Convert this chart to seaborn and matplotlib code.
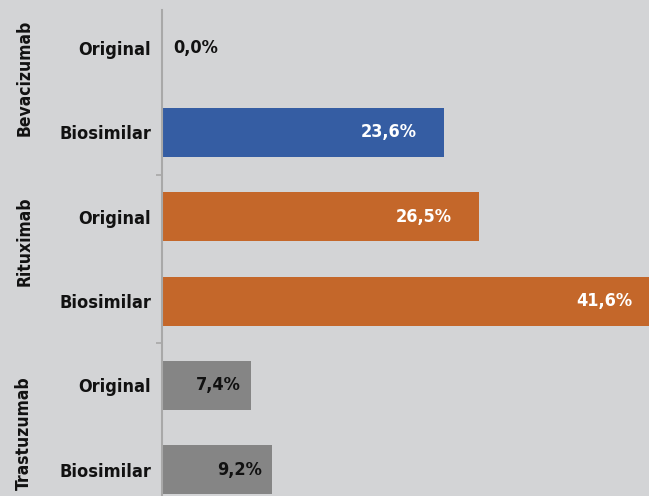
import matplotlib
matplotlib.use("Agg")
import matplotlib.pyplot as plt
import matplotlib.transforms as mtransforms
import seaborn as sns
import pandas as pd

productos = ["Bevacizumab", "Bevacizumab", "Rituximab", "Rituximab", "Trastuzumab", "Trastuzumab"]
tipos = ["Original", "Biosimilar", "Original", "Biosimilar", "Original", "Biosimilar"]
valores = [0.0, 23.6, 26.5, 41.6, 7.4, 9.2]
etiquetas = ["0,0%", "23,6%", "26,5%", "41,6%", "7,4%", "9,2%"]
grupos = ["Bevacizumab", "Rituximab", "Trastuzumab"]
colores = {"Bevacizumab": "#355da3", "Rituximab": "#c4672a", "Trastuzumab": "#858585"}

fondo = "#d3d4d6"
sns.set_theme(style="white")
plt.rcParams["font.family"] = ["DejaVu Sans"]
plt.rcParams["font.stretch"] = "condensed"

df = pd.DataFrame({"producto": productos, "tipo": tipos, "valor": valores})
df["fila"] = df["producto"] + " " + df["tipo"]

fig = plt.figure(figsize=(6.49, 4.96), dpi=100, facecolor=fondo)
ax = fig.add_axes([162 / 649, 0, 1 - 162 / 649, 1 - 10 / 496])
ax.set_facecolor(fondo)

sns.barplot(data=df, x="valor", y="fila", hue="producto", palette=colores,
            orient="h", width=0.58, dodge=False, legend=False, saturation=1,
            linewidth=0, ax=ax)

ax.set_xlim(0, 40.7)
ax.set_ylim(5.31, -0.45)
ax.set_xlabel("")
ax.set_ylabel("")
ax.set_xticks([])
ax.set_yticks(range(len(tipos)))
ax.set_yticklabels(tipos, fontsize=13, fontweight="bold", color="#111111")
ax.tick_params(axis="y", which="major", length=0, pad=8)
ax.set_yticks([1.5, 3.5], minor=True)
ax.tick_params(axis="y", which="minor", length=4, width=1.2, color="#a8a8a8", left=True)
for s in ["top", "right", "bottom"]:
    ax.spines[s].set_visible(False)
ax.spines["left"].set_color("#a8a8a8")
ax.spines["left"].set_linewidth(1.5)

for i, (v, t, p) in enumerate(zip(valores, etiquetas, productos)):
    if v == 0:
        ax.annotate(t, (v, i), xytext=(8, 0), textcoords="offset points",
                    ha="left", va="center", fontsize=13, fontweight="bold", color="#111111")
    elif p == "Trastuzumab":
        ax.annotate(t, (v, i), xytext=(-7, 0), textcoords="offset points",
                    ha="right", va="center", fontsize=13, fontweight="bold", color="#111111")
    else:
        ax.annotate(t, (v, i), xytext=(-20, 0), textcoords="offset points",
                    ha="right", va="center", fontsize=13, fontweight="bold", color="white",
                    annotation_clip=False)

trans = mtransforms.blended_transform_factory(ax.transAxes, ax.transData)
for g, yc in zip(grupos, [0.36, 2.29, 4.57]):
    ax.text(-0.283, yc, g, transform=trans, rotation=90, ha="center", va="center",
            fontsize=12.5, fontweight="bold", color="#111111")

fig.savefig("out.png", dpi=100, facecolor=fondo)
